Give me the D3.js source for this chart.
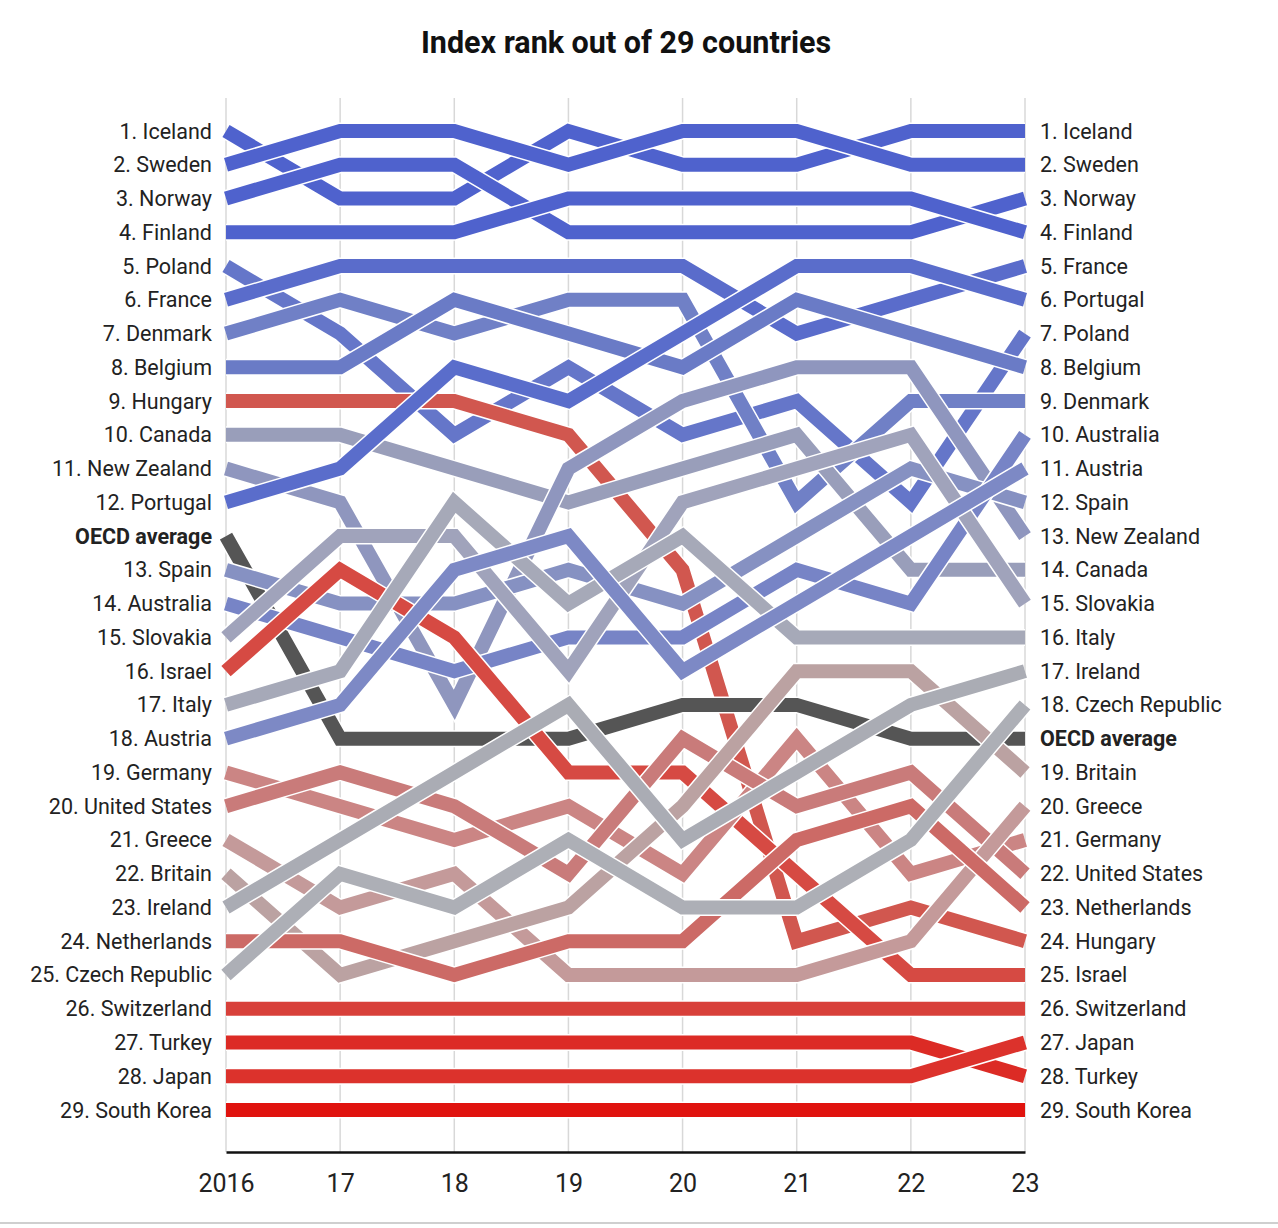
<!DOCTYPE html>
<html>
<head>
<meta charset="utf-8">
<script src="https://cdn.jsdelivr.net/npm/d3@7"></script>
<style>
  html, body { margin: 0; padding: 0; background: #ffffff; }
  svg { display: block; }
  text { font-family: Roboto, "Liberation Sans", "DejaVu Sans", sans-serif; }
</style>
</head>
<body>
<script>
// ---------------- DATA ----------------
const years = [2016, 2017, 2018, 2019, 2020, 2021, 2022, 2023];
const yearLabels = ["2016", "17", "18", "19", "20", "21", "22", "23"];

const countries = [
  "Iceland", "Sweden", "Norway", "Finland", "Poland", "France", "Denmark", "Belgium",
  "Hungary", "Canada", "New Zealand", "Portugal", "OECD average", "Spain", "Australia",
  "Slovakia", "Israel", "Italy", "Austria", "Germany", "United States", "Greece",
  "Britain", "Ireland", "Netherlands", "Czech Republic", "Switzerland", "Turkey",
  "Japan", "South Korea"
];

// display row (1 = top) for each year 2016..2023 (OECD average occupies its own row)
const rankRows = [
  [1, 3, 3, 1, 2, 2, 1, 1],       // Iceland
  [2, 1, 1, 2, 1, 1, 2, 2],       // Sweden
  [3, 2, 2, 4, 4, 4, 4, 3],       // Norway
  [4, 4, 4, 3, 3, 3, 3, 4],       // Finland
  [5, 7, 10, 8, 10, 9, 12, 7],    // Poland
  [6, 5, 5, 5, 5, 7, 6, 5],       // France
  [7, 6, 7, 6, 6, 12, 9, 9],      // Denmark
  [8, 8, 6, 7, 8, 6, 7, 8],       // Belgium
  [9, 9, 9, 10, 14, 25, 24, 25],  // Hungary
  [10, 10, 11, 12, 11, 10, 14, 14], // Canada
  [11, 12, 18, 11, 9, 8, 8, 13],  // New Zealand
  [12, 11, 8, 9, 7, 5, 5, 6],     // Portugal
  [13, 19, 19, 19, 18, 18, 19, 19], // OECD average
  [14, 15, 15, 14, 15, 13, 11, 12], // Spain
  [15, 16, 17, 16, 16, 14, 15, 10], // Australia
  [16, 13, 13, 17, 12, 11, 10, 15], // Slovakia
  [17, 14, 16, 20, 20, 23, 26, 26], // Israel
  [18, 17, 12, 15, 13, 16, 16, 16], // Italy
  [19, 18, 14, 13, 17, 15, 13, 11], // Austria
  [20, 21, 22, 21, 23, 19, 23, 22], // Germany
  [21, 20, 21, 23, 19, 21, 20, 23], // United States
  [22, 24, 23, 26, 26, 26, 25, 21], // Greece
  [23, 26, 25, 24, 21, 17, 17, 20], // Britain
  [24, 22, 20, 18, 22, 20, 18, 17], // Ireland
  [25, 25, 26, 25, 25, 22, 21, 24], // Netherlands
  [26, 23, 24, 22, 24, 24, 22, 18], // Czech Republic
  [27, 27, 27, 27, 27, 27, 27, 27], // Switzerland
  [28, 28, 28, 28, 28, 28, 28, 29], // Turkey
  [29, 29, 29, 29, 29, 29, 29, 28], // Japan
  [30, 30, 30, 30, 30, 30, 30, 30]  // South Korea
];

const lineColors = [
  "#4f62cd", "#4f62cd", "#4f62cd", "#4f62cd", "#6576c9", "#5a6ccb", "#7080c6", "#6a7bc6",
  "#d1574f", "#999eba", "#8f96be", "#5a6dcb", "#555555", "#8691c2", "#7784c6",
  "#a0a3bb", "#d64a43", "#a6a9b8", "#7d89c5", "#cb8584", "#c97b7a", "#c49a9a",
  "#bba2a2", "#aaacb4", "#cc6a66", "#adafb6", "#d8403a", "#dc2b25",
  "#dc322c", "#e0130e"
];

const leftLabels = [
  "1. Iceland", "2. Sweden", "3. Norway", "4. Finland", "5. Poland", "6. France",
  "7. Denmark", "8. Belgium", "9. Hungary", "10. Canada", "11. New Zealand",
  "12. Portugal", "OECD average", "13. Spain", "14. Australia", "15. Slovakia",
  "16. Israel", "17. Italy", "18. Austria", "19. Germany", "20. United States",
  "21. Greece", "22. Britain", "23. Ireland", "24. Netherlands", "25. Czech Republic",
  "26. Switzerland", "27. Turkey", "28. Japan", "29. South Korea"
];

const rightLabels = [
  "1. Iceland", "2. Sweden", "3. Norway", "4. Finland", "5. France", "6. Portugal",
  "7. Poland", "8. Belgium", "9. Denmark", "10. Australia", "11. Austria", "12. Spain",
  "13. New Zealand", "14. Canada", "15. Slovakia", "16. Italy", "17. Ireland",
  "18. Czech Republic", "OECD average", "19. Britain", "20. Greece", "21. Germany",
  "22. United States", "23. Netherlands", "24. Hungary", "25. Israel",
  "26. Switzerland", "27. Japan", "28. Turkey", "29. South Korea"
];

const titleText = "Index rank out of 29 countries";

// ---------------- CHART ----------------
const W = 1278, H = 1228;
const svg = d3.select("body").append("svg").attr("width", W).attr("height", H);

const x = d3.scaleLinear().domain([2016, 2023]).range([226, 1025]);
const y = d3.scaleLinear().domain([1, 30]).range([131, 1110]);

// title
svg.append("text")
  .attr("x", 626).attr("y", 53)
  .attr("text-anchor", "middle")
  .attr("font-size", 30.5).attr("font-weight", 700)
  .attr("fill", "#111")
  .text(titleText);

// vertical gridlines
svg.append("g").selectAll("line").data(years).join("line")
  .attr("x1", d => x(d)).attr("x2", d => x(d))
  .attr("y1", 98).attr("y2", 1152)
  .attr("stroke", "#d8d8d8").attr("stroke-width", 1.5);

// x axis
const xAxis = d3.axisBottom(x)
  .tickValues(years)
  .tickSize(0)
  .tickPadding(22)
  .tickFormat((d, i) => yearLabels[i]);
const gx = svg.append("g").attr("transform", "translate(0,1152)").call(xAxis);
gx.select(".domain").attr("stroke", "#111").attr("stroke-width", 2.5);
gx.selectAll("text").attr("font-size", 25).attr("fill", "#222")
  .attr("font-family", "Roboto, 'Liberation Sans', sans-serif");

// lines
const line = d3.line()
  .x((d, i) => x(years[i]))
  .y(d => y(d));

const gLines = svg.append("g");
rankRows.forEach((rows, k) => {
  gLines.append("path")
    .attr("d", line(rows))
    .attr("fill", "none")
    .attr("stroke", "#ffffff")
    .attr("stroke-width", 17)
    .attr("stroke-linejoin", "miter")
    .attr("stroke-linecap", "butt");
  gLines.append("path")
    .attr("d", line(rows))
    .attr("fill", "none")
    .attr("stroke", lineColors[k])
    .attr("stroke-width", 14)
    .attr("stroke-linejoin", "miter")
    .attr("stroke-linecap", "butt");
});

// left labels
svg.append("g").selectAll("text").data(leftLabels).join("text")
  .attr("x", 212)
  .attr("y", (d, i) => y(i + 1))
  .attr("dy", "0.35em")
  .attr("text-anchor", "end")
  .attr("font-size", 21.5)
  .attr("font-weight", d => d === "OECD average" ? 700 : 400)
  .attr("fill", "#222")
  .text(d => d);

// right labels
svg.append("g").selectAll("text").data(rightLabels).join("text")
  .attr("x", 1040)
  .attr("y", (d, i) => y(i + 1))
  .attr("dy", "0.35em")
  .attr("text-anchor", "start")
  .attr("font-size", 21.5)
  .attr("font-weight", d => d === "OECD average" ? 700 : 400)
  .attr("fill", "#222")
  .text(d => d);

// footer rule
svg.append("line")
  .attr("x1", 0).attr("x2", W).attr("y1", 1223).attr("y2", 1223)
  .attr("stroke", "#cfcfcf").attr("stroke-width", 2);
</script>
</body>
</html>
